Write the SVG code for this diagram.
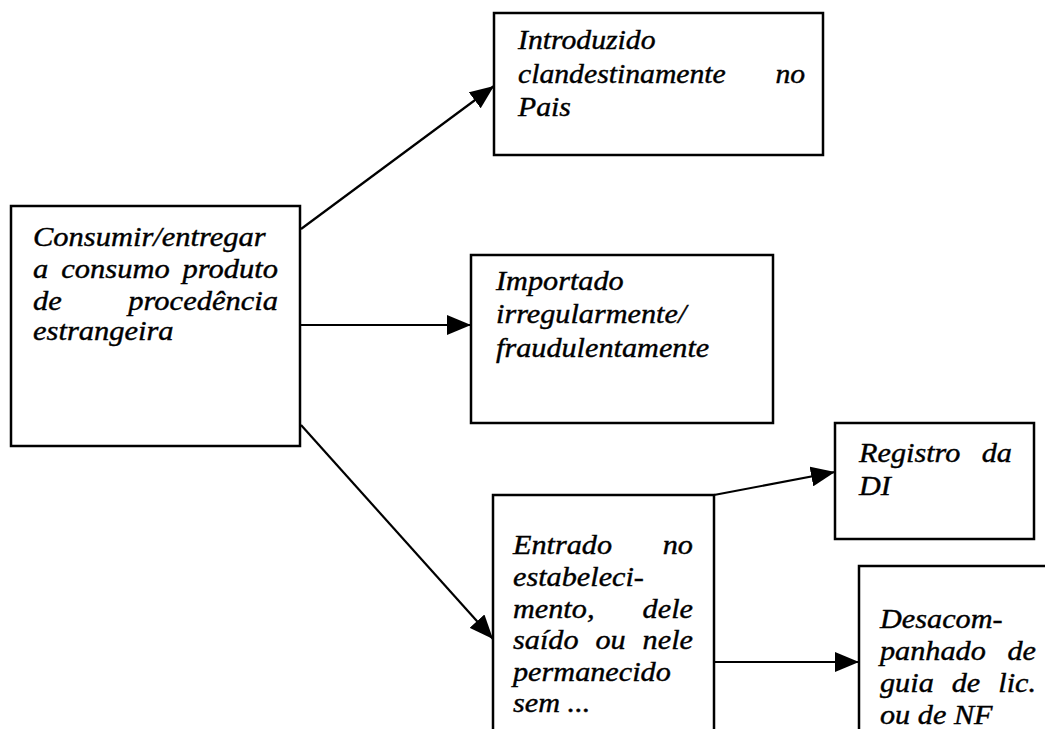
<svg xmlns="http://www.w3.org/2000/svg" width="1045" height="729" viewBox="0 0 1045 729">
<style>
.box{fill:#fff;stroke:#000;stroke-width:2.5}
.con{fill:none;stroke:#000;stroke-width:2.2}
.t{font-family:'Liberation Serif','DejaVu Serif',serif;font-style:italic;font-size:27px;fill:#000;stroke:#000;stroke-width:0.4}
.e{text-anchor:end}
</style>
<defs>
<marker id="ah" markerUnits="userSpaceOnUse" markerWidth="24" markerHeight="20" refX="24" refY="10" orient="auto" viewBox="0 0 24 20">
<path d="M0,0 L24,10 L0,20 z" fill="#000"/>
</marker>
</defs>
<rect width="1045" height="729" fill="#fff"/>
<g id="connectors">
<line class="con" x1="301" y1="229" x2="494" y2="86" marker-end="url(#ah)"/>
<line class="con" x1="300" y1="325" x2="471" y2="325" marker-end="url(#ah)"/>
<line class="con" x1="301" y1="425" x2="493" y2="639" marker-end="url(#ah)"/>
<line class="con" x1="714" y1="495" x2="835" y2="472" marker-end="url(#ah)"/>
<line class="con" x1="714" y1="662" x2="859" y2="662" marker-end="url(#ah)"/>
</g>
<g id="n1">
<rect class="box" x="11" y="206" width="289" height="240"/>
<g transform="translate(33,0) scale(1.13,1)">
<text class="t" x="0" y="246">Consumir/entregar</text>
<text class="t" x="0" y="278">a</text>
<text class="t" x="25" y="278">consumo</text>
<text class="t e" x="216.8" y="278">produto</text>
<text class="t" x="0" y="310">de</text>
<text class="t e" x="216.8" y="310">procedência</text>
<text class="t" x="0" y="340">estrangeira</text>
</g>
</g>
<g id="n2">
<rect class="box" x="494" y="13" width="329" height="142"/>
<g transform="translate(518,0) scale(1.1,1)">
<text class="t" x="0" y="49">Introduzido</text>
<text class="t" x="0" y="83">clandestinamente</text>
<text class="t e" x="261" y="83">no</text>
<text class="t" x="0" y="116">Pais</text>
</g>
</g>
<g id="n3">
<rect class="box" x="471" y="255" width="302" height="168"/>
<g transform="translate(496,0) scale(1.12,1)">
<text class="t" x="0" y="290">Importado</text>
<text class="t" x="0" y="323">irregularmente/</text>
<text class="t" x="0" y="357">fraudulentamente</text>
</g>
</g>
<g id="n4">
<rect class="box" x="493" y="495" width="221" height="260"/>
<g transform="translate(513,0) scale(1.12,1)">
<text class="t" x="0" y="554">Entrado</text>
<text class="t e" x="160.7" y="554">no</text>
<text class="t" x="0" y="586">estabeleci-</text>
<text class="t" x="0" y="618">mento,</text>
<text class="t e" x="160.7" y="618">dele</text>
<text class="t" x="0" y="649">saído</text>
<text class="t" x="73.6" y="649">ou</text>
<text class="t e" x="160.7" y="649">nele</text>
<text class="t" x="0" y="681">permanecido</text>
<text class="t" x="0" y="712">sem ...</text>
</g>
</g>
<g id="n5">
<rect class="box" x="835" y="423" width="199" height="116"/>
<g transform="translate(859,0) scale(1.12,1)">
<text class="t" x="0" y="462">Registro</text>
<text class="t e" x="136.6" y="462">da</text>
<text class="t" x="0" y="495">DI</text>
</g>
</g>
<g id="n6">
<rect class="box" x="859" y="566" width="220" height="200"/>
<g transform="translate(880,0) scale(1.12,1)">
<text class="t" x="0" y="628">Desacom-</text>
<text class="t" x="0" y="660">panhado</text>
<text class="t e" x="139.3" y="660">de</text>
<text class="t" x="0" y="692">guia</text>
<text class="t" x="64" y="692">de</text>
<text class="t e" x="139.3" y="692">lic.</text>
<text class="t" x="0" y="724">ou de NF</text>
</g>
</g>
</svg>
